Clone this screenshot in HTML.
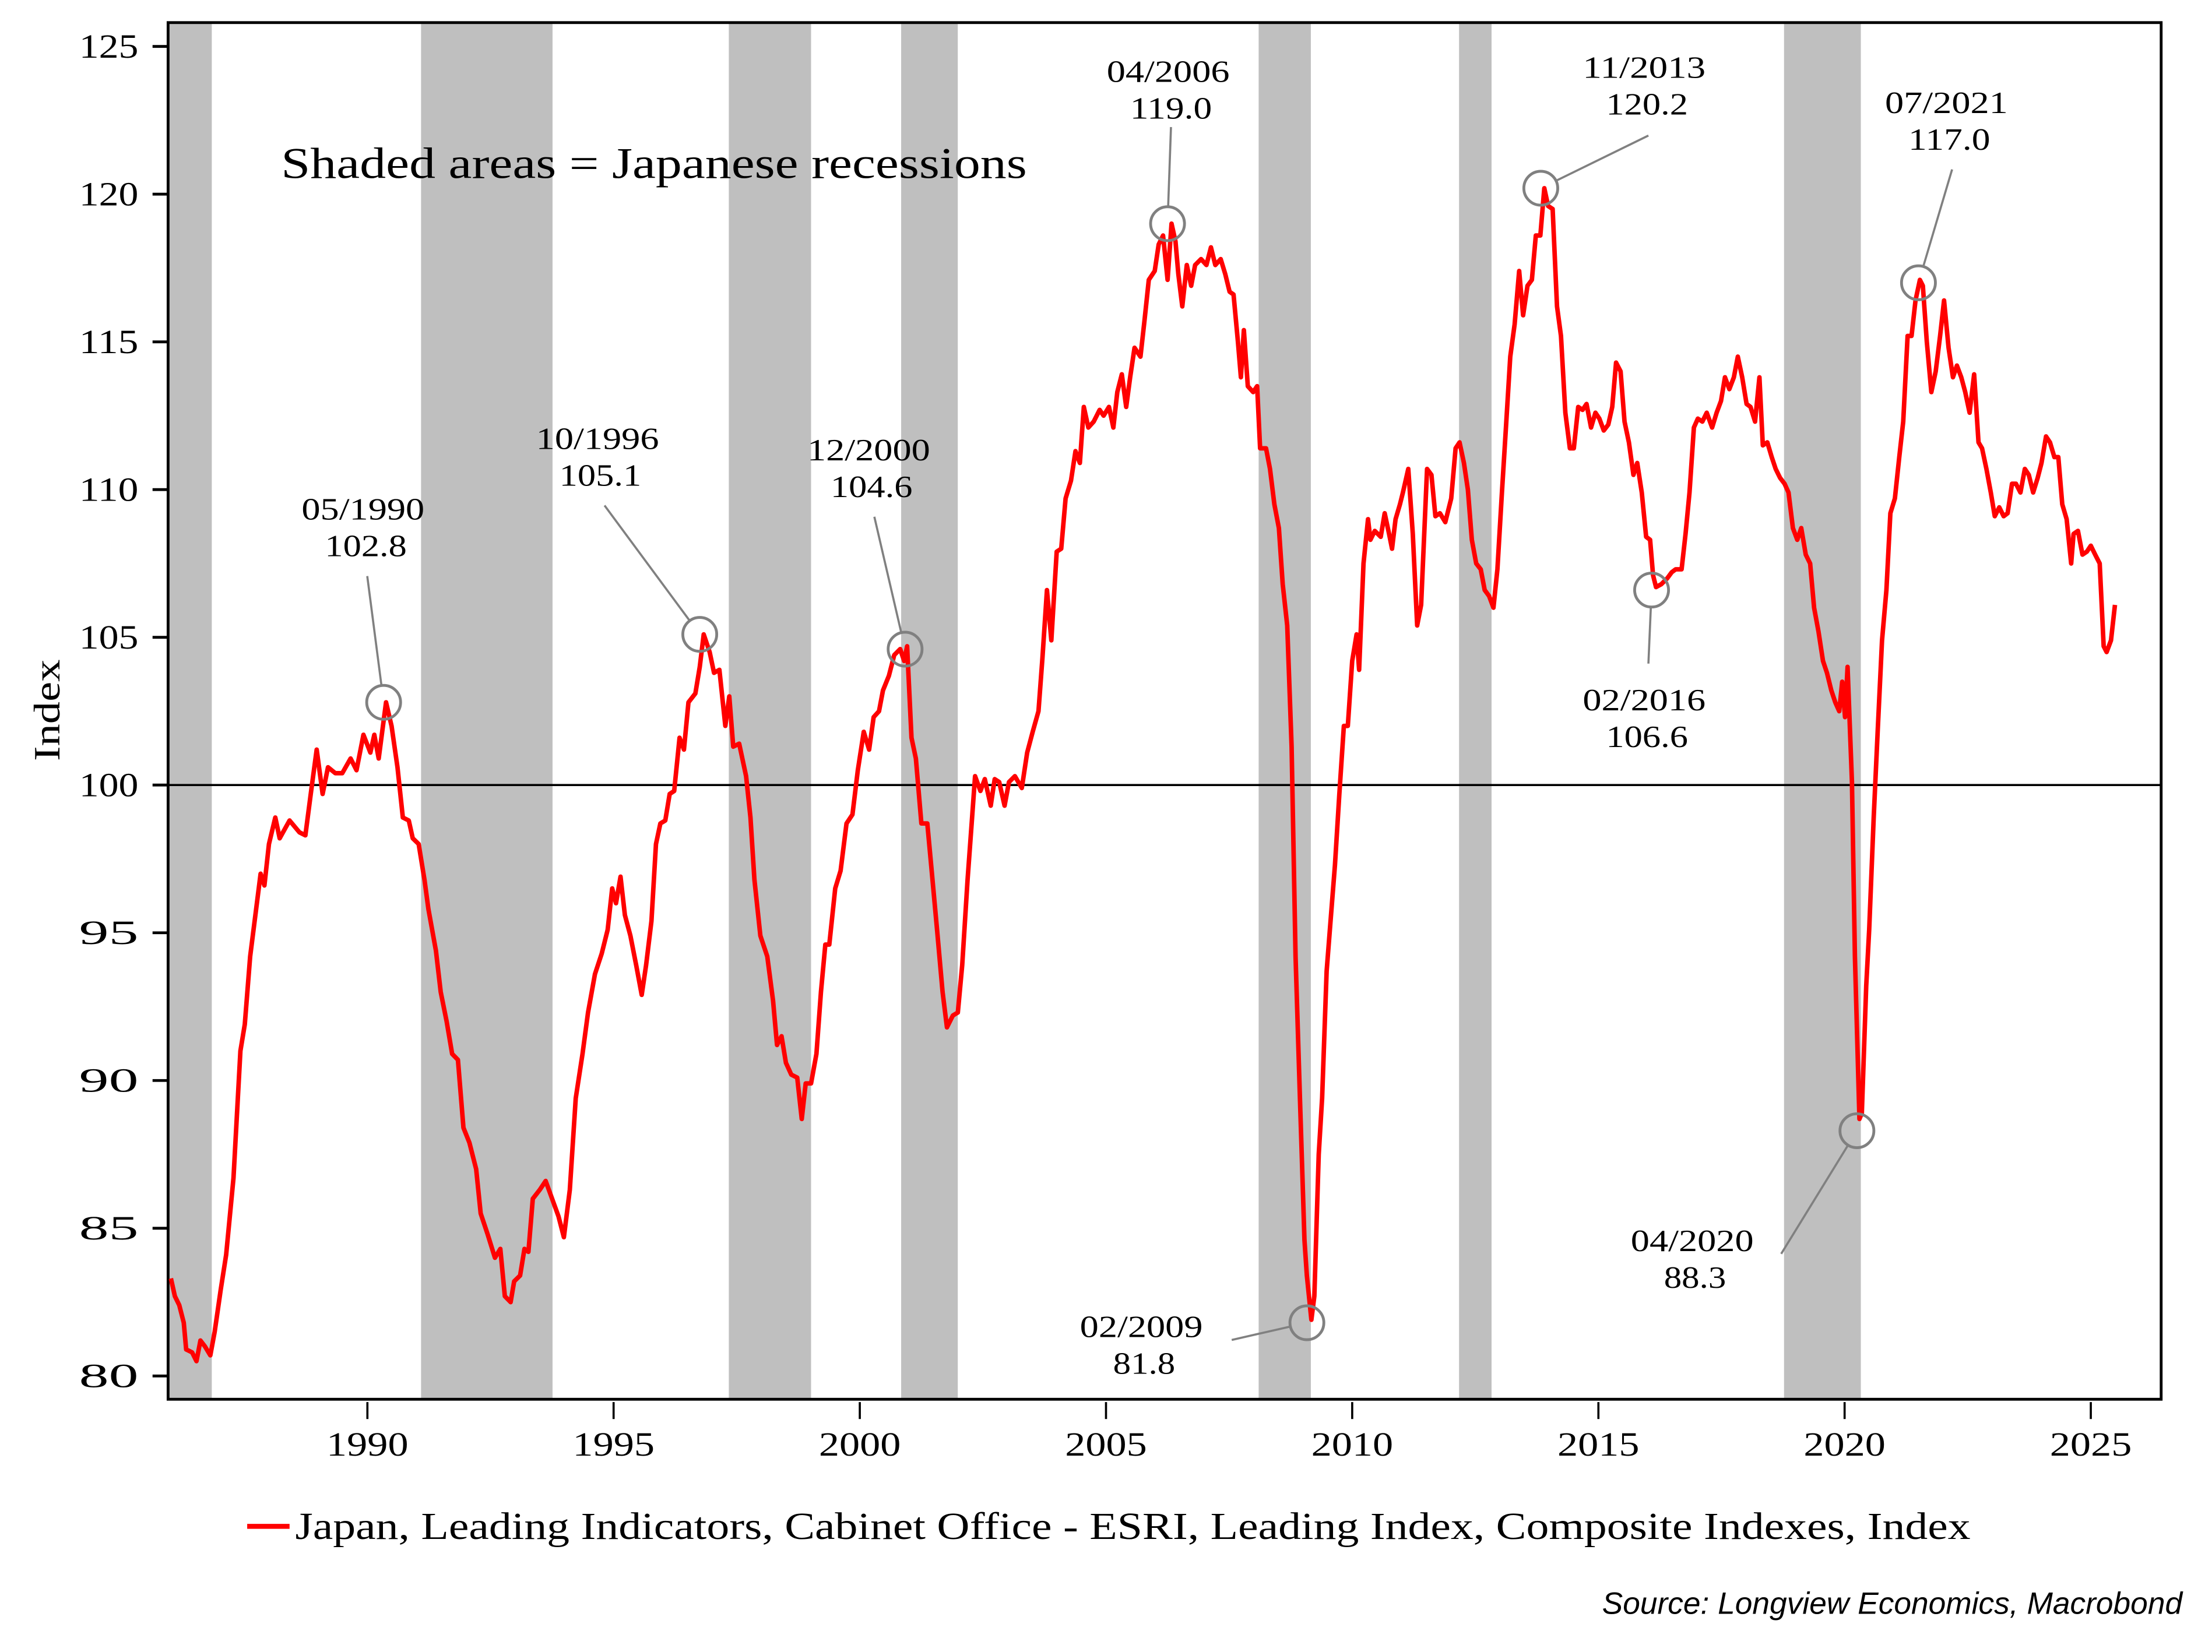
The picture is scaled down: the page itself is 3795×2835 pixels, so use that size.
<!DOCTYPE html>
<html><head><meta charset="utf-8"><style>
html,body{margin:0;padding:0;background:#fff;}
svg{display:block;}
text{font-family:"Liberation Serif",serif;fill:#000;}
</style></head><body>
<svg id="chart" width="3795" height="2835" viewBox="0 0 1566 1170" preserveAspectRatio="none" xmlns="http://www.w3.org/2000/svg">
<g id="rec"></g>
<g id="grid"></g>
<g id="series"></g>
<g id="ann"></g>
<text x="199" y="126" font-size="31" textLength="528" lengthAdjust="spacingAndGlyphs">Shaded areas = Japanese recessions</text>
<text transform="translate(42,503) rotate(-90)" text-anchor="middle" font-size="26" textLength="72" lengthAdjust="spacingAndGlyphs">Index</text>
<g>
<line x1="175" y1="1081" x2="205" y2="1081" stroke="#ff0000" stroke-width="3.5"/>
<text x="209" y="1090" font-size="27" textLength="1186" lengthAdjust="spacingAndGlyphs">Japan, Leading Indicators, Cabinet Office - ESRI, Leading Index, Composite Indexes, Index</text>
</g>
<text x="1545" y="1143" text-anchor="end" font-size="22" font-style="italic" style="font-family:'Liberation Sans',sans-serif">Source: Longview Economics, Macrobond</text>
</svg>
<script>
const recStart=[1985.95,1991.09,1997.34,2000.84,2008.10,2012.17,2018.77];
const recEnd=[1986.84,1993.76,1999.01,2001.99,2009.16,2012.83,2020.33];
const yTicks=[80,85,90,95,100,105,110,115,120,125];
const xTicks=[1990,1995,2000,2005,2010,2015,2020,2025];
const dates=[1986.01,1986.09,1986.18,1986.27,1986.32,1986.44,1986.53,1986.61,1986.70,1986.81,1986.90,1987.02,1987.13,1987.28,1987.42,1987.51,1987.62,1987.83,1987.91,1988.00,
1988.13,1988.22,1988.42,1988.62,1988.74,1988.85,1988.97,1989.09,1989.20,1989.35,1989.49,1989.66,1989.78,1989.92,
1990.06,1990.14,1990.23,1990.38,1990.49,1990.61,1990.72,1990.84,1990.92,1991.04,1991.16,1991.24,1991.39,
1991.49,1991.61,1991.72,1991.84,1991.95,1992.07,1992.21,1992.30,1992.44,1992.59,1992.70,1992.79,1992.91,
1992.98,1993.10,1993.19,1993.27,1993.36,1993.50,1993.62,1993.73,1993.88,1993.99,1994.11,1994.23,1994.37,
1994.48,1994.62,1994.76,1994.88,1994.97,1995.05,1995.14,1995.23,1995.34,1995.46,1995.57,1995.66,1995.77,1995.86,1995.95,
1996.05,1996.14,1996.23,1996.34,1996.43,1996.52,1996.66,1996.75,1996.83,1996.95,1997.04,1997.15,1997.27,1997.35,
1997.43,1997.55,1997.69,1997.78,1997.86,1997.98,1998.12,1998.24,1998.32,1998.41,1998.50,1998.61,1998.73,1998.82,1998.90,
1999.01,1999.12,1999.21,1999.30,1999.38,1999.50,1999.61,1999.73,1999.85,1999.96,2000.08,2000.19,2000.28,2000.39,
2000.47,2000.59,2000.70,2000.82,2000.90,2000.96,2001.05,2001.14,2001.25,2001.37,2001.45,2001.57,2001.68,2001.77,2001.89,
2001.99,2002.08,2002.19,2002.28,2002.34,2002.45,2002.54,2002.66,2002.74,2002.83,2002.94,2003.03,2003.15,2003.29,
2003.40,2003.51,2003.63,2003.71,2003.80,2003.89,2004.00,2004.09,2004.18,2004.29,2004.38,2004.47,2004.55,2004.64,2004.75,2004.87,
2004.95,2005.06,2005.15,2005.23,2005.32,2005.41,2005.49,2005.58,2005.70,2005.78,2005.87,2005.99,2006.07,2006.16,2006.25,2006.33,
2006.41,2006.47,2006.55,2006.64,2006.73,2006.81,2006.93,2007.04,2007.13,2007.22,2007.33,2007.42,2007.51,2007.59,2007.68,2007.74,2007.80,2007.88,
2007.99,2008.07,2008.13,2008.25,2008.33,2008.42,2008.51,2008.59,2008.68,2008.77,2008.85,2008.94,2009.03,2009.08,2009.17,2009.23,2009.32,
2009.39,2009.48,2009.57,2009.65,2009.74,2009.83,2009.91,2010.00,2010.09,2010.14,2010.23,2010.32,2010.37,2010.46,2010.58,2010.66,2010.75,2010.81,
2010.88,2010.97,2011.03,2011.14,2011.23,2011.32,2011.40,2011.52,2011.61,2011.69,2011.78,2011.89,2012.01,2012.10,2012.18,2012.27,
2012.35,2012.43,2012.52,2012.61,2012.69,2012.78,2012.87,2012.95,2013.04,2013.13,2013.21,2013.30,2013.39,2013.47,2013.56,2013.65,2013.73,2013.82,
2013.90,2013.98,2014.07,2014.16,2014.24,2014.33,2014.42,2014.50,2014.59,2014.68,2014.76,2014.85,2014.94,2015.02,2015.11,2015.20,2015.28,
2015.36,2015.45,2015.53,2015.62,2015.71,2015.79,2015.88,2015.97,2016.05,2016.11,2016.17,2016.28,2016.40,2016.49,2016.57,2016.69,2016.77,
2016.85,2016.94,2017.02,2017.11,2017.20,2017.31,2017.40,2017.49,2017.57,2017.66,2017.75,2017.83,2017.92,2018.01,2018.09,2018.18,2018.27,
2018.34,2018.43,2018.52,2018.60,2018.69,2018.78,2018.86,2018.95,2019.04,2019.12,2019.21,2019.30,2019.38,2019.47,2019.56,2019.64,2019.73,
2019.81,2019.89,2019.95,2020.01,2020.06,2020.15,2020.21,2020.30,2020.35,2020.44,2020.50,2020.59,2020.67,2020.76,2020.85,2020.93,2021.02,2021.11,2021.19,2021.28,
2021.36,2021.44,2021.53,2021.59,2021.67,2021.76,2021.85,2021.94,2022.02,2022.11,2022.20,2022.28,2022.37,2022.45,2022.54,2022.63,2022.72,
2022.79,2022.88,2022.97,2023.05,2023.14,2023.23,2023.31,2023.40,2023.48,2023.57,2023.66,2023.74,2023.83,2023.92,2024.00,2024.09,2024.17,2024.26,
2024.34,2024.42,2024.51,2024.60,2024.65,2024.74,2024.83,2024.92,2025.00,2025.09,2025.18,2025.26,2025.32,2025.41,2025.49];
const values=[83.3,82.7,82.4,81.8,80.9,80.8,80.5,81.2,81.0,80.7,81.5,82.9,84.1,86.7,91.0,91.9,94.2,97.0,96.6,98.0,98.9,98.2,98.8,98.4,98.3,99.7,101.2,99.7,100.6,100.4,100.4,100.9,100.5,101.7,101.1,101.7,100.9,102.8,102.0,100.6,98.9,98.8,98.2,98.0,96.8,95.8,94.4,93.0,92.0,90.9,90.7,88.4,87.9,87.0,85.5,84.8,84.0,84.3,82.7,82.5,83.2,83.4,84.3,84.2,86.0,86.3,86.6,86.1,85.4,84.7,86.3,89.4,90.9,92.3,93.6,94.3,95.1,96.5,96.0,96.9,95.6,94.9,93.9,92.9,93.9,95.4,98.0,98.7,98.8,99.7,99.8,101.6,101.2,102.8,103.1,104.0,105.1,104.5,103.8,103.9,102.0,103.0,101.3,101.4,100.3,98.9,96.8,94.9,94.2,92.7,91.2,91.5,90.6,90.2,90.1,88.7,89.9,89.9,90.9,93.0,94.6,94.6,96.5,97.1,98.7,99.0,100.5,101.8,101.2,102.3,102.5,103.2,103.7,104.4,104.6,104.2,104.7,101.6,100.9,98.7,98.7,97.3,95.1,93.0,91.8,92.2,92.3,93.9,96.8,98.9,100.3,99.8,100.2,99.3,100.2,100.1,99.3,100.1,100.3,99.9,101.1,101.8,102.5,104.3,106.6,104.9,107.9,108.0,109.7,110.3,111.3,110.9,112.8,112.1,112.3,112.7,112.5,112.8,112.1,113.3,113.9,112.8,113.8,114.8,114.5,115.7,117.1,117.4,118.3,118.6,117.1,119.0,118.4,117.3,116.2,117.6,116.9,117.6,117.8,117.6,118.2,117.6,117.8,117.3,116.7,116.6,115.0,113.8,115.4,113.5,113.3,113.5,111.4,111.4,110.7,109.5,108.7,106.8,105.4,101.3,94.2,89.4,84.6,83.4,81.9,82.7,87.5,89.4,93.7,95.6,97.3,99.7,102.0,102.0,104.2,105.1,103.9,107.5,109.0,108.3,108.6,108.4,109.2,108.5,108.0,109.0,109.5,109.9,110.7,108.5,105.4,106.1,110.7,110.5,109.1,109.2,108.9,109.7,111.4,111.6,110.9,110.0,108.3,107.5,107.3,106.6,106.4,106.0,107.3,109.9,112.3,114.5,115.6,117.4,115.9,116.9,117.1,118.6,118.6,120.2,119.6,119.5,116.2,115.2,112.6,111.4,111.4,112.8,112.7,112.9,112.1,112.6,112.4,112.0,112.2,112.8,114.3,114.0,112.3,111.6,110.5,110.9,109.9,108.4,108.3,107.1,106.7,106.8,107.0,107.2,107.3,107.3,108.5,109.9,112.1,112.4,112.3,112.6,112.1,112.6,113.0,113.8,113.4,113.8,114.5,113.8,112.9,112.8,112.3,113.8,111.5,111.6,111.1,110.7,110.4,110.2,109.9,108.7,108.3,108.7,107.8,107.5,106.0,105.2,104.2,103.8,103.2,102.8,102.5,103.5,102.3,104.0,100.1,94.2,88.7,88.9,93.2,95.1,98.9,101.8,104.9,106.6,109.2,109.7,111.1,112.3,115.2,115.2,116.4,117.1,116.9,115.0,113.3,114.0,115.2,116.4,114.8,113.8,114.2,113.8,113.3,112.6,113.9,111.6,111.4,110.7,109.9,109.1,109.4,109.1,109.2,110.2,110.2,109.9,110.7,110.5,109.9,110.4,110.9,111.8,111.6,111.1,111.1,109.5,109.0,107.5,108.5,108.6,107.8,107.9,108.1,107.8,107.5,104.7,104.5,104.9,106.1];
const annDates=["05/1990","10/1996","12/2000","04/2006","02/2009","11/2013","02/2016","04/2020","07/2021"];
const annValues=[102.8,105.1,104.6,119.0,81.8,120.2,106.6,88.3,117.0];
const annYears=[1990.33,1996.75,2000.92,2006.25,2009.08,2013.83,2016.08,2020.25,2021.50];

const NS="http://www.w3.org/2000/svg";
const L=119,R=1530,T=16,B=991;
function xs(t){return 260.1+(t-1990)*34.86;}
function ys(v){return 974.5-(v-80)*20.925;}
function mk(tag,attrs,parent){const e=document.createElementNS(NS,tag);for(const k in attrs)e.setAttribute(k,attrs[k]);parent.appendChild(e);return e;}

const rec=document.getElementById('rec');
for(let i=0;i<recStart.length;i++){
  const r=mk('rect',{x:xs(recStart[i]),y:T,width:xs(recEnd[i])-xs(recStart[i]),height:B-T,fill:'#bfbfbf'},rec);
  
  
}
const g=document.getElementById('grid');
const zl=mk('line',{x1:L,x2:R,y1:ys(100),y2:ys(100),stroke:'#000','stroke-width':1.5},g);


const fr=mk('rect',{x:L,y:T,width:R-L,height:B-T,fill:'none',stroke:'#000','stroke-width':2},g);


yTicks.forEach(v=>{
  const tk=mk('line',{x1:L-11,x2:L,y1:ys(v),y2:ys(v),stroke:'#000','stroke-width':2},g);
  
  
  const tx=mk('text',{x:L-21,y:ys(v)+8,'text-anchor':'end','font-size':24,textLength:42,lengthAdjust:'spacingAndGlyphs'},g);
  tx.textContent=v;
  
  
});
xTicks.forEach(t=>{
  const tk=mk('line',{x1:xs(t),x2:xs(t),y1:B+2,y2:B+14,stroke:'#000','stroke-width':1.5},g);
  
  
  const tx=mk('text',{x:xs(t),y:B+40,'text-anchor':'middle','font-size':24,textLength:58,lengthAdjust:'spacingAndGlyphs'},g);
  tx.textContent=t;
  
  
});
const s=document.getElementById('series');
let d='';
for(let i=0;i<dates.length;i++){d+=(i?'L':'M')+xs(dates[i]).toFixed(1)+','+ys(values[i]).toFixed(1);}
const p=mk('path',{d:d,fill:'none',stroke:'#ff0000','stroke-width':3.2,'stroke-linejoin':'round'},s);



// label offsets (layout only)
const labelPos=[[257,360,260,408],[423,310,428,358],[615,318,619,366],[827,50,829,90],[808,939,872,949],[1164,47,1167,96],[1164,495,1167,470],[1198,878,1261,888],[1378,72,1382,120]];
const a=document.getElementById('ann');
for(let i=0;i<annDates.length;i++){
  const cx=xs(annYears[i]),cy=ys(annValues[i]);
  const lp=labelPos[i];
  const dx=lp[2]-cx,dy=lp[3]-cy,len=Math.hypot(dx,dy);
  const ln=mk('line',{x1:lp[2],y1:lp[3],x2:cx+dx/len*12,y2:cy+dy/len*12,stroke:'#808080','stroke-width':1.5},a);
  
  
  const c=mk('circle',{cx:cx,cy:cy,r:12,fill:'none',stroke:'#808080','stroke-width':2},a);
  
  
  const t1=mk('text',{x:lp[0],y:lp[1]+8,'text-anchor':'middle','font-size':22,textLength:87,lengthAdjust:'spacingAndGlyphs'},a);
  t1.textContent=annDates[i];
  
  
  const vt=annValues[i].toFixed(1);
  const t2=mk('text',{x:lp[0]+2,y:lp[1]+34,'text-anchor':'middle','font-size':22,textLength:(vt.length>4?58:44),lengthAdjust:'spacingAndGlyphs'},a);
  t2.textContent=vt;
  
  
}
</script>
</body></html>
